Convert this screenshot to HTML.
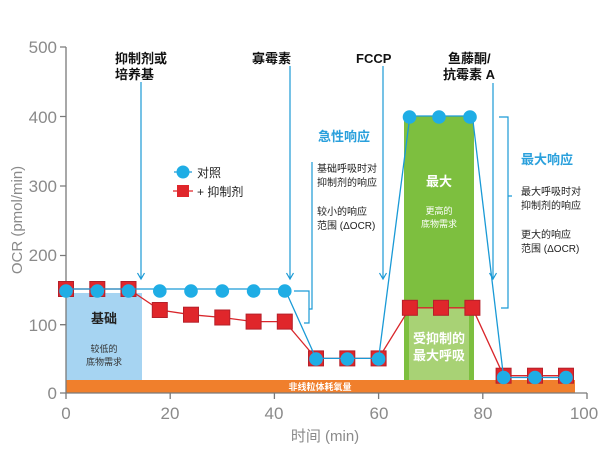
<!DOCTYPE html>
<html><head><meta charset="utf-8"><style>
html,body{margin:0;padding:0;background:#fff}
svg{display:block}
text{font-family:"Liberation Sans","Noto Sans CJK SC",sans-serif}
</style></head><body>
<svg width="616" height="449" viewBox="0 0 616 449" xmlns="http://www.w3.org/2000/svg">
<!-- boxes -->
<rect x="66" y="293" width="76" height="87" fill="#a6d4f2"/>
<rect x="404" y="116" width="70" height="264" fill="#7dbf3f"/>
<rect x="409" y="308" width="60" height="72" fill="#a8d275"/>
<rect x="66" y="380" width="509" height="13" fill="#f07f2c"/>
<text x="320" y="390" font-size="9" fill="#fff" font-weight="bold" text-anchor="middle">非线粒体耗氧量</text>
<text x="104" y="323" font-size="13" font-weight="bold" fill="#222" text-anchor="middle">基础</text>
<text x="104" y="352" font-size="9" fill="#333" text-anchor="middle">较低的</text>
<text x="104" y="365" font-size="9" fill="#333" text-anchor="middle">底物需求</text>
<text x="439" y="186" font-size="13" font-weight="bold" fill="#fff" text-anchor="middle">最大</text>
<text x="439" y="214" font-size="9" fill="#fff" text-anchor="middle">更高的</text>
<text x="439" y="227" font-size="9" fill="#fff" text-anchor="middle">底物需求</text>
<text x="439" y="343" font-size="13" font-weight="bold" fill="#fff" text-anchor="middle">受抑制的</text>
<text x="439" y="360" font-size="13" font-weight="bold" fill="#fff" text-anchor="middle">最大呼吸</text>
<!-- axes -->
<g stroke="#7a7a7a" stroke-width="1.3" fill="none">
<path d="M66,47 V393 H587"/>
<path d="M60,47H66 M60,116.5H66 M60,186H66 M60,255.5H66 M60,324.7H66 M60,393H66"/>
<path d="M66,393V399 M170.2,393V399 M274.4,393V399 M378.6,393V399 M482.8,393V399 M587,393V399"/>
</g>
<g font-size="17" fill="#8a8a8a" text-anchor="end">
<text x="57" y="53">500</text><text x="57" y="123">400</text><text x="57" y="192">300</text>
<text x="57" y="261">200</text><text x="57" y="331">100</text><text x="57" y="399">0</text>
</g>
<g font-size="17" fill="#8a8a8a" text-anchor="middle">
<text x="66" y="419">0</text><text x="170" y="419">20</text><text x="274" y="419">40</text>
<text x="379" y="419">60</text><text x="483" y="419">80</text><text x="584" y="419">100</text>
</g>
<text x="325" y="441" font-size="15" fill="#8a8a8a" text-anchor="middle">时间 (min)</text>
<text transform="translate(22,220) rotate(-90)" font-size="15" fill="#8a8a8a" text-anchor="middle">OCR (pmol/min)</text>
<!-- injection lines -->
<g stroke="#1a9ad6" stroke-width="1.2" fill="none">
<path d="M141,82V279 M137.5,273L141,279L144.5,273"/>
<path d="M290,66V279 M286.5,273L290,279L293.5,273"/>
<path d="M383,66V279 M379.5,273L383,279L386.5,273"/>
<path d="M493,83V279 M489.5,273L493,279L496.5,273"/>
</g>
<g font-size="13" font-weight="bold" fill="#111">
<text x="115" y="63">抑制剂或</text><text x="115" y="79">培养基</text>
<text x="252" y="63">寡霉素</text>
<text x="356" y="63">FCCP</text>
<text x="448" y="63">鱼藤酮/</text><text x="443" y="79">抗霉素 A</text>
</g>
<!-- brackets -->
<g stroke="#1a9ad6" stroke-width="1.2" fill="none">
<path d="M294,291H309V323H304"/>
<path d="M312,162V309H309"/>
<path d="M499,117H508V308H501 M508,196H512"/>
</g>
<text x="318" y="141" font-size="13" font-weight="bold" fill="#2aa0dc">急性响应</text>
<g font-size="10" fill="#222">
<text x="317" y="172">基础呼吸时对</text><text x="317" y="186">抑制剂的响应</text>
<text x="317" y="215">较小的响应</text><text x="317" y="229">范围 (ΔOCR)</text>
<text x="521" y="164" font-size="13" font-weight="bold" fill="#2aa0dc">最大响应</text>
<text x="521" y="195">最大呼吸时对</text><text x="521" y="209">抑制剂的响应</text>
<text x="521" y="238">更大的响应</text><text x="521" y="252">范围 (ΔOCR)</text>
</g>
<!-- legend -->
<line x1="174" y1="172" x2="192" y2="172" stroke="#1a9ad6" stroke-width="1.2"/>
<circle cx="183" cy="172" r="6.5" fill="#1fade5"/>
<text x="197" y="177" font-size="12" fill="#222">对照</text>
<line x1="173" y1="191" x2="193" y2="191" stroke="#e0262b" stroke-width="1.2"/>
<rect x="177" y="185" width="12" height="12" fill="#e0262b"/>
<text x="197" y="196" font-size="12" fill="#222">+ 抑制剂</text>
<!-- red series -->
<polyline fill="none" stroke="#d9262b" stroke-width="1.3" points="66,289 97.3,289 128.5,289 159.8,310 191,314.7 222.3,317.5 253.6,321.6 284.8,321.6 316,358.4 347.3,358.4 378.6,358.4 409.9,307.8 441,307.8 472.4,307.8 503.6,375.7 535,375.7 566,375.7"/>
<g fill="#e0262b" stroke="#b5202a" stroke-width="1">
<rect x="58.5" y="281.5" width="15" height="15"/><rect x="89.8" y="281.5" width="15" height="15"/><rect x="121" y="281.5" width="15" height="15"/>
<rect x="152.3" y="302.5" width="15" height="15"/><rect x="183.5" y="307.2" width="15" height="15"/><rect x="214.8" y="310" width="15" height="15"/>
<rect x="246.1" y="314.1" width="15" height="15"/><rect x="277.3" y="314.1" width="15" height="15"/>
<rect x="308.5" y="350.9" width="15" height="15"/><rect x="339.8" y="350.9" width="15" height="15"/><rect x="371.1" y="350.9" width="15" height="15"/>
<rect x="402.4" y="300.3" width="15" height="15"/><rect x="433.5" y="300.3" width="15" height="15"/><rect x="464.9" y="300.3" width="15" height="15"/>
<rect x="496.1" y="368.2" width="15" height="15"/><rect x="527.5" y="368.2" width="15" height="15"/><rect x="558.5" y="368.2" width="15" height="15"/>
</g>
<!-- blue series -->
<polyline fill="none" stroke="#1a9ad6" stroke-width="1.3" points="66,289 97.3,289 128.5,289 159.8,289 191,289 222.3,289 253.6,289 284.8,289 316,358.4 347.3,358.4 378.6,358.4 409.9,116 441,116 472.4,116 503.6,377.5 535,377.5 566,377.5"/>
<g fill="#1fade5">
<circle cx="66" cy="291" r="6.8"/><circle cx="97.3" cy="291" r="6.8"/><circle cx="128.5" cy="291" r="6.8"/>
<circle cx="159.8" cy="291" r="6.8"/><circle cx="191" cy="291" r="6.8"/><circle cx="222.3" cy="291" r="6.8"/>
<circle cx="253.6" cy="291" r="6.8"/><circle cx="284.8" cy="291" r="6.8"/>
<circle cx="316" cy="359" r="6.8"/><circle cx="347.3" cy="359" r="6.8"/><circle cx="378.6" cy="359" r="6.8"/>
<circle cx="409.5" cy="117" r="6.8"/><circle cx="439" cy="117" r="6.8"/><circle cx="470" cy="117" r="6.8"/>
<circle cx="503.6" cy="377.5" r="6.8"/><circle cx="535" cy="377.5" r="6.8"/><circle cx="566" cy="377.5" r="6.8"/>
</g>
</svg>
</body></html>
